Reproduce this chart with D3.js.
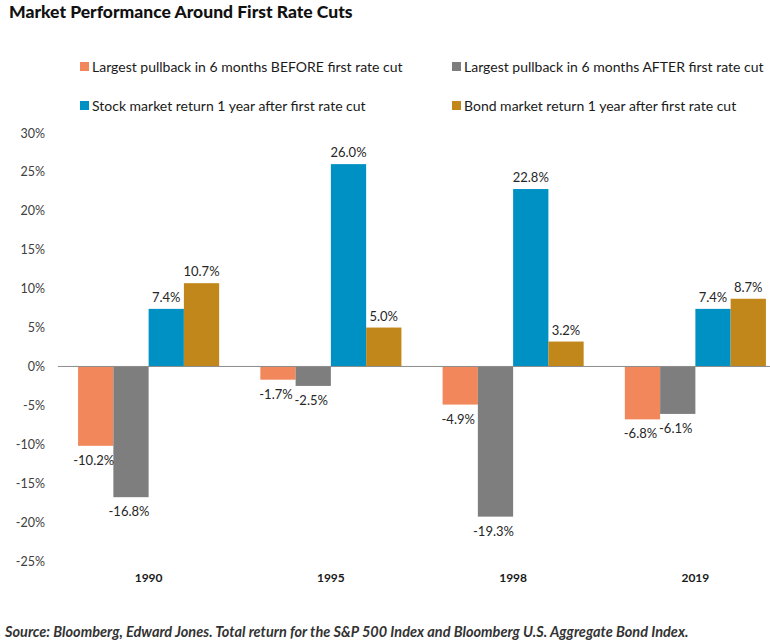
<!DOCTYPE html>
<html>
<head>
<meta charset="utf-8">
<script src="https://cdn.jsdelivr.net/npm/d3@7"></script>
<style>
  body { margin: 0; background: #fff; }
  svg { display: block; font-family: Lato, "Open Sans", sans-serif; }
</style>
</head>
<body>
<svg id="chart" width="770" height="644"></svg>
<script>
// data
var years = ['1990', '1995', '1998', '2019'];
var seriesNames = [
    'Largest pullback in 6 months BEFORE first rate cut',
    'Largest pullback in 6 months AFTER first rate cut',
    'Stock market return 1 year after first rate cut',
    'Bond market return 1 year after first rate cut'
];
var before = [-10.2, -1.7, -4.9, -6.8];
var after = [-16.8, -2.5, -19.3, -6.1];
var stock = [7.4, 26.0, 22.8, 7.4];
var bond = [10.7, 5.0, 3.2, 8.7];
var yTicks = [30, 25, 20, 15, 10, 5, 0, -5, -10, -15, -20, -25];
var colors = ['#f1875b', '#7f7e7f', '#0091c4', '#c2871a'];

var values = [before, after, stock, bond];
var rows = [];
years.forEach((y, i) => values.forEach((s, k) => rows.push({year: y, k: k, v: s[i]})));

// init
var graph = d3.select('#chart');

// title
graph.append('text')
    .attr('x', 9).attr('y', 18)
    .style('font-size', '17.5px').style('font-weight', '900').attr('fill', '#111')
    .text('Market Performance Around First Rate Cuts');

// legend
var legend = graph.selectAll('g.legend')
    .data(seriesNames).enter()
    .append('g')
    .attr('class', 'legend')
    .attr('transform', (d, i) => 'translate(' + (i % 2 ? 452 : 80) + ',' + (i < 2 ? 67 : 106) + ')');
legend.append('rect')
    .attr('x', 0).attr('y', -5).attr('width', 9).attr('height', 9)
    .attr('fill', (d, i) => colors[i]);
legend.append('text')
    .attr('x', 12).attr('y', 5)
    .style('font-size', '14px').attr('fill', '#1a1a1a')
    .text(d => d);

// scales
var y = d3.scaleLinear().domain([-25, 30]).range([561, 133]);
var x0 = d3.scaleBand().domain(years).range([57.5, 786.5]).paddingInner(0.226).paddingOuter(0.113);
var x1 = d3.scaleBand().domain(d3.range(4)).range([0, x0.bandwidth()]);

// y axis labels
graph.append('g')
    .selectAll('text')
    .data(yTicks).enter()
    .append('text')
    .attr('x', 45).attr('y', d => y(d) + 4.5)
    .attr('text-anchor', 'end')
    .style('font-size', '12.5px').attr('fill', '#404040')
    .text(d => d + '%');

// bars
var bars = graph.append('g').selectAll('rect')
    .data(rows).enter()
    .append('rect')
    .attr('x', d => x0(d.year) + x1(d.k))
    .attr('width', x1.bandwidth())
    .attr('y', d => y(Math.max(0, d.v)))
    .attr('height', d => Math.abs(y(d.v) - y(0)))
    .attr('fill', d => colors[d.k]);

// zero line
graph.append('line')
    .attr('x1', 58).attr('x2', 770)
    .attr('y1', y(0)).attr('y2', y(0))
    .attr('stroke', '#8c8c8c').attr('stroke-width', 1);

// value labels
graph.append('g').selectAll('text')
    .data(rows).enter()
    .append('text')
    .attr('x', d => x0(d.year) + x1(d.k) + x1.bandwidth() / 2 - (d.v < 0 ? 2 : 0))
    .attr('y', d => d.v >= 0 ? y(d.v) - 7 : y(d.v) + 19)
    .attr('text-anchor', 'middle')
    .style('font-size', '13px').attr('fill', '#262626')
    .text(d => d.v.toFixed(1) + '%');

// year labels
graph.append('g').selectAll('text')
    .data(years).enter()
    .append('text')
    .attr('x', d => x0(d) + x0.bandwidth() / 2)
    .attr('y', 582)
    .attr('text-anchor', 'middle')
    .style('font-size', '12px').style('font-weight', 'bold').attr('fill', '#1a1a1a')
    .text(d => d);

// source
graph.append('text')
    .attr('x', 5).attr('y', 637)
    .style('font-size', '14.5px').style('font-weight', 'bold').style('font-style', 'italic')
    .attr('fill', '#333')
    .text('Source: Bloomberg, Edward Jones. Total return for the S&P 500 Index and Bloomberg U.S. Aggregate Bond Index.');
</script>
</body>
</html>
